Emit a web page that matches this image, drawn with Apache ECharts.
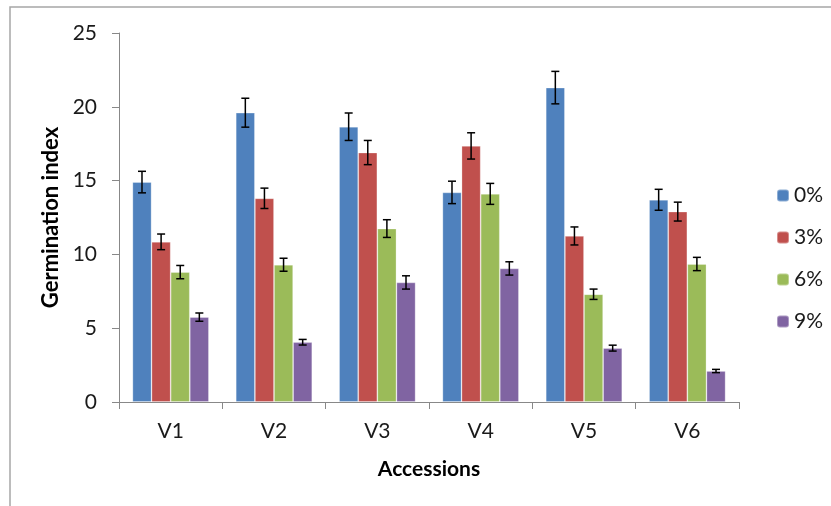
<!DOCTYPE html>
<html>
<head>
<meta charset="utf-8">
<script src="https://cdn.jsdelivr.net/npm/echarts@6/dist/echarts.min.js"></script>
<style>
html,body{margin:0;padding:0;background:#fff;}
#chart{width:831px;height:506px;}
</style>
</head>
<body>
<div id="chart"></div>
<script>
const categories = ['V1','V2','V3','V4','V5','V6'];
const seriesNames = ['0%','3%','6%','9%'];
const values0 = [14.9, 19.6, 18.65, 14.2, 21.3, 13.7];
const values3 = [10.85, 13.8, 16.9, 17.35, 11.25, 12.9];
const values6 = [8.8, 9.3, 11.75, 14.1, 7.3, 9.35];
const values9 = [5.75, 4.05, 8.1, 9.05, 3.65, 2.1];
const err0 = [0.73, 0.98, 0.93, 0.76, 1.1, 0.71];
const err3 = [0.53, 0.69, 0.82, 0.89, 0.61, 0.64];
const err6 = [0.45, 0.44, 0.6, 0.71, 0.35, 0.45];
const err9 = [0.28, 0.19, 0.45, 0.45, 0.2, 0.11];
const yTicks = [0, 5, 10, 15, 20, 25];
const colors = ['#4F81BD', '#C0504D', '#9BBB59', '#8064A2'];

const allValues = [values0, values3, values6, values9];
const allErrs = [err0, err3, err6, err9];
const gapFrac = 0.26;

const errData = [];
allValues.forEach((vals, s) => {
  vals.forEach((v, c) => errData.push([c, v, allErrs[s][c], s]));
});

const chart = echarts.init(document.getElementById('chart'), null, {renderer: 'canvas'});
const fontFam = 'Lato, "Open Sans", sans-serif';

const barSeries = allValues.map((vals, s) => ({
  name: seriesNames[s],
  type: 'bar',
  data: vals,
  barGap: '0%',
  barCategoryGap: (gapFrac * 100) + '%',
  itemStyle: {color: colors[s], borderColor: 'rgba(255,255,255,0.35)', borderWidth: 0.8},
  z: 2
}));

const errSeries = {
  type: 'custom',
  z: 5,
  silent: true,
  data: errData,
  encode: {x: 0, y: 1},
  renderItem: function (params, api) {
    const c = api.value(0), v = api.value(1), e = api.value(2), s = api.value(3);
    const band = api.size([1, 0])[0];
    const bw = band * (1 - gapFrac) / 4;
    const center = api.coord([c, v]);
    const x = center[0] + (s - 1.5) * bw;
    const yTop = api.coord([c, v + e])[1];
    const yBot = api.coord([c, v - e])[1];
    const cap = 4;
    const style = {stroke: '#000', lineWidth: 1.5, fill: null};
    return {
      type: 'group',
      children: [
        {type: 'line', shape: {x1: x, y1: yTop, x2: x, y2: yBot}, style: style},
        {type: 'line', shape: {x1: x - cap, y1: yTop, x2: x + cap, y2: yTop}, style: style},
        {type: 'line', shape: {x1: x - cap, y1: yBot, x2: x + cap, y2: yBot}, style: style}
      ]
    };
  }
};

chart.setOption({
  backgroundColor: '#fff',
  animation: false,
  color: colors,
  graphic: [{
    type: 'rect',
    shape: {x: 10, y: 7, width: 900, height: 600},
    style: {fill: null, stroke: '#a6a6a6', lineWidth: 1.5},
    z: 0
  }],
  grid: {left: 119, right: 92, top: 33, bottom: 104, containLabel: false},
  legend: {
    orient: 'vertical',
    left: 771,
    top: 180,
    itemWidth: 12,
    itemHeight: 12,
    itemGap: 21,
    data: seriesNames,
    textStyle: {fontSize: 21, color: '#1a1a1a', fontFamily: fontFam, lineHeight: 21}
  },
  xAxis: {
    type: 'category',
    data: categories,
    name: 'Accessions',
    nameLocation: 'middle',
    nameGap: 57,
    nameTextStyle: {fontSize: 21, fontWeight: 'bold', color: '#000', fontFamily: fontFam},
    axisLine: {lineStyle: {color: '#888', width: 1}},
    axisTick: {show: true, length: 7, lineStyle: {color: '#888'}},
    axisLabel: {fontSize: 21, color: '#1a1a1a', margin: 19, fontFamily: fontFam}
  },
  yAxis: {
    type: 'value',
    min: yTicks[0],
    max: yTicks[yTicks.length - 1],
    interval: 5,
    name: 'Germination index',
    nameLocation: 'middle',
    nameGap: 53,
    nameTextStyle: {fontSize: 22, fontWeight: 'bold', color: '#000', fontFamily: fontFam},
    splitLine: {show: false},
    axisLine: {show: true, lineStyle: {color: '#888', width: 1}},
    axisTick: {show: true, length: 7, lineStyle: {color: '#888'}},
    axisLabel: {fontSize: 21, color: '#1a1a1a', margin: 22, fontFamily: fontFam}
  },
  series: barSeries.concat([errSeries])
});
</script>
</body>
</html>
